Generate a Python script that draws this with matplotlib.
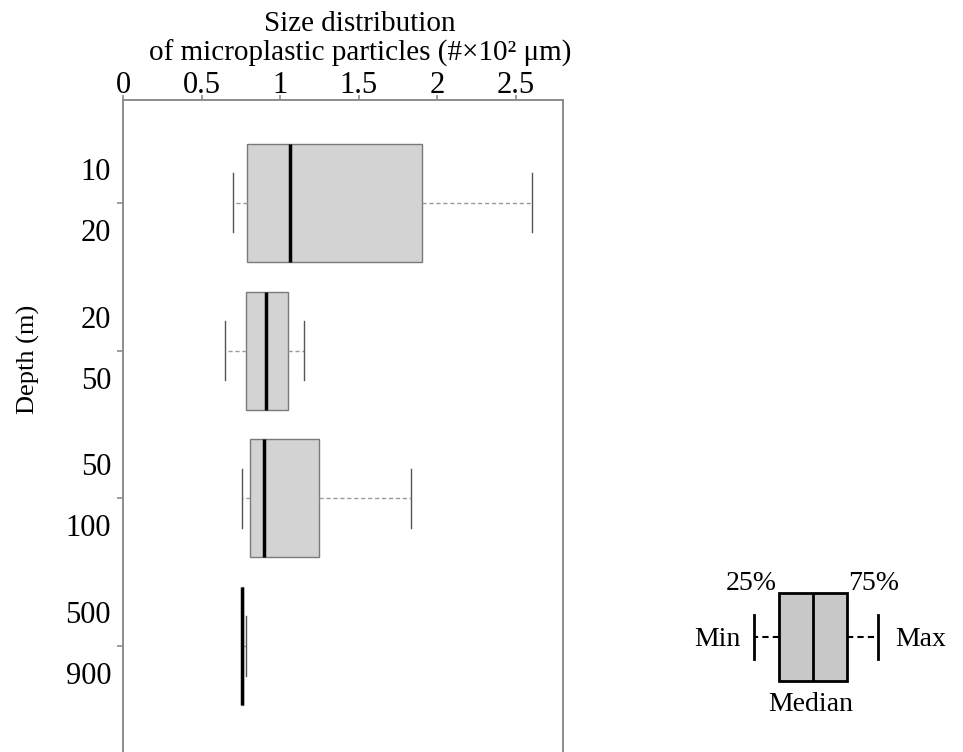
import matplotlib
matplotlib.use("Agg")
import matplotlib.pyplot as plt

plt.rcParams["font.family"] = ["Liberation Serif", "DejaVu Serif"]

# --- data (size in x10^2 um) --------------------------------------------------
depth_labels = ["10\n20", "20\n50", "50\n100", "500\n900"]
size_min = [0.70, 0.65, 0.76, 0.755]
size_q1 = [0.79, 0.78, 0.81, 0.755]
size_median = [1.06, 0.91, 0.90, 0.76]
size_q3 = [1.90, 1.05, 1.25, 0.765]
size_max = [2.60, 1.15, 1.83, 0.78]
x_ticks = [0, 0.5, 1, 1.5, 2, 2.5]
x_tick_labels = ["0", "0.5", "1", "1.5", "2", "2.5"]

# schematic box for the key on the right
key_min, key_q1, key_med, key_q3, key_max = 0.63, 1.0, 1.5, 2.0, 2.46

W, H = 963, 752
fig = plt.figure(figsize=(W / 100, H / 100), dpi=100)

ax = fig.add_axes([123 / W, 0, 440 / W, 652 / H])
stats = [dict(whislo=lo, q1=a, med=m, q3=b, whishi=hi)
         for lo, a, m, b, hi in zip(size_min, size_q1, size_median, size_q3, size_max)]
ax.bxp(stats, positions=[1, 2, 3, 4], widths=0.8, capwidths=0.4,
       orientation="horizontal", patch_artist=True, showfliers=False,
       boxprops=dict(facecolor="#d3d3d3", edgecolor="#7a7a7a", lw=1.0),
       medianprops=dict(color="black", lw=2.5),
       whiskerprops=dict(color="#9a9a9a", lw=1.0, ls=(0, (3, 2))),
       capprops=dict(color="#555555", lw=1.0))
ax.set_xlim(0, 2.8)
ax.set_ylim(4.718, 0.303)
ax.xaxis.tick_top()
ax.set_xticks(x_ticks, x_tick_labels)
ax.set_yticks([1, 2, 3, 4])
ax.set_yticklabels(depth_labels, linespacing=2.45, va="center")
ax.tick_params(axis="x", length=3.6, width=1.2, color="#8c8c8c", pad=1.6, labelsize=22)
ax.tick_params(axis="y", length=4.3, width=1.2, color="#8c8c8c", pad=4.3, labelsize=22)
for t in ax.xaxis.get_major_ticks():
    t.label2.set_va("baseline")
for side in ["top", "left", "right"]:
    ax.spines[side].set_color("#8c8c8c")
    ax.spines[side].set_linewidth(1.4)
ax.spines["bottom"].set_visible(False)

fig.text(360 / W, 1 - 11 / H,
         "Size distribution\nof microplastic particles (#\u00d710\u00b2 \u03bcm)",
         ha="center", va="top", fontsize=21, linespacing=1.15)
fig.text(28 / W, 1 - 359 / H, "Depth (m)", rotation=90, ha="center", va="center",
         fontsize=19)

# --- key -----------------------------------------------------------------------
kx = fig.add_axes([711 / W, (H - 725) / H, 204 / W, 176 / H])
kx.bxp([dict(whislo=key_min, q1=key_q1, med=key_med, q3=key_q3, whishi=key_max)],
       positions=[1], widths=1.0, capwidths=0.5, orientation="horizontal",
       patch_artist=True, showfliers=False,
       boxprops=dict(facecolor="#c8c8c8", edgecolor="black", lw=2.0),
       medianprops=dict(color="black", lw=2.0),
       whiskerprops=dict(color="black", lw=1.5, ls=(0, (3, 2))),
       capprops=dict(color="black", lw=2.0))
kx.set_xlim(0, 3)
kx.set_ylim(2, 0)
kx.axis("off")
kw = dict(fontsize=20, clip_on=False)
kx.text(key_q1 - 0.03, 0.39, "25%", ha="right", va="center", **kw)
kx.text(key_q3 + 0.01, 0.39, "75%", ha="left", va="center", **kw)
kx.text(0.43, 1.03, "Min", ha="right", va="center", **kw)
kx.text(2.71, 1.03, "Max", ha="left", va="center", **kw)
kx.text(key_med - 0.03, 1.77, "Median", ha="center", va="center", **kw)

fig.savefig("out.png", dpi=100)
